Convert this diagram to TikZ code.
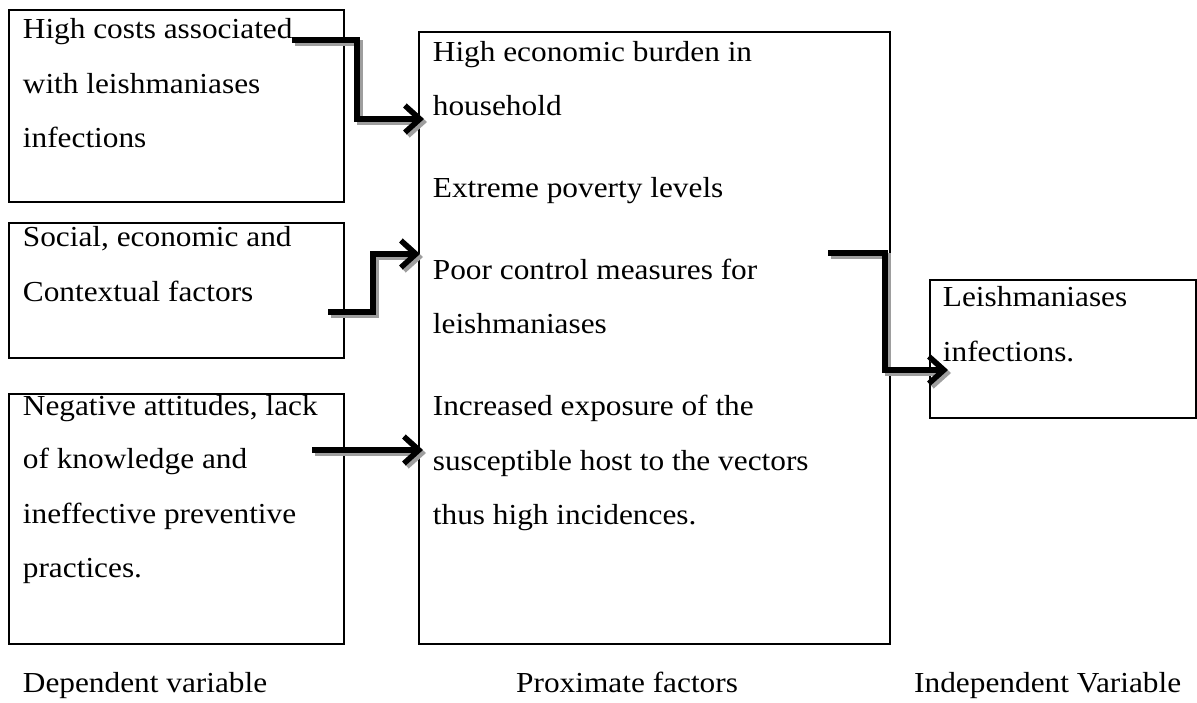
\documentclass[tikz,border=0pt]{standalone}
\usepackage{fontspec}
\setmainfont{Liberation Serif}[FakeStretch=1.08]
\usetikzlibrary{arrows.meta}
\begin{document}
\begin{tikzpicture}[x=1pt,y=-1pt,
  box/.style={draw, line width=2pt, inner sep=0pt, anchor=north west},
  txt/.style={anchor=base west, inner sep=0pt, font=\fontsize{29}{54}\selectfont},
  flowbase/.style={line width=5.5pt, line join=miter,
    -{Straight Barb[length=15pt,width=27pt,line width=5.5pt]}},
  flow/.style={flowbase, draw=black},
  flowshadow/.style={flowbase, draw=black!38}]
\useasboundingbox (0,0) rectangle (1197,702);
% boxes
\node[box, minimum width=335pt, minimum height=192pt] (b1) at (8,9) {};
\node[box, minimum width=335pt, minimum height=135pt] (b2) at (8,222) {};
\node[box, minimum width=335pt, minimum height=250pt] (b3) at (8,393) {};
\node[box, minimum width=471pt, minimum height=612pt] (mid) at (418,31) {};
\node[box, minimum width=266pt, minimum height=138pt] (res) at (929,279) {};
% left texts
\node[txt] (t11) at (22.7,38.3) {High costs associated};
\node[txt] (t12) at (22.7,93) {with leishmaniases};
\node[txt] (t13) at (22.7,147) {infections};
\node[txt] (t21) at (22.7,246.7) {Social, economic and};
\node[txt] (t22) at (22.7,301.7) {Contextual factors};
\node[txt] (t31) at (22.7,415) {Negative attitudes, lack};
\node[txt] (t32) at (22.7,468) {of knowledge and};
\node[txt] (t33) at (22.7,523) {ineffective preventive};
\node[txt] (t34) at (22.7,577) {practices.};
% middle texts
\node[txt] (m1) at (432.7,61.7) {High economic burden in};
\node[txt] (m2) at (432.7,115.5) {household};
\node[txt] (m3) at (432.7,197.3) {Extreme poverty levels};
\node[txt] (m4) at (432.7,279) {Poor control measures for};
\node[txt] (m5) at (432.7,333.3) {leishmaniases};
\node[txt] (m6) at (432.7,415) {Increased exposure of the};
\node[txt] (m7) at (432.7,470) {susceptible host to the vectors};
\node[txt] (m8) at (432.7,524) {thus high incidences.};
% right texts
\node[txt] (r1) at (942.7,306.7) {Leishmaniases};
\node[txt] (r2) at (942.7,361.7) {infections.};
% bottom labels
\node[txt] (l1) at (22.7,692) {Dependent variable};
\node[txt] (l2) at (516,692) {Proximate factors};
\node[txt] (l3) at (914,692) {Independent Variable};
% arrow end points
\coordinate (a1) at (292,40);
\coordinate (a1e) at (424,119);
\coordinate (a2) at (328,312);
\coordinate (a2e) at (420,254);
\coordinate (a3) at (312,450);
\coordinate (a3e) at (423,450);
\coordinate (a4) at (828,253);
\coordinate (a4e) at (948,370);
% shadows
\begin{scope}[transform canvas={shift={(3pt,-3pt)}}]
\draw[flowshadow] (a1) -- (357,40) -- (357,119) -- (a1e);
\draw[flowshadow] (a2) -- (373,312) -- (373,254) -- (a2e);
\draw[flowshadow] (a3) -- (a3e);
\draw[flowshadow] (a4) -- (885,253) -- (885,370) -- (a4e);
\end{scope}
% arrows
\draw[flow] (a1) -- (357,40) -- (357,119) -- (a1e);
\draw[flow] (a2) -- (373,312) -- (373,254) -- (a2e);
\draw[flow] (a3) -- (a3e);
\draw[flow] (a4) -- (885,253) -- (885,370) -- (a4e);
\end{tikzpicture}
\end{document}
